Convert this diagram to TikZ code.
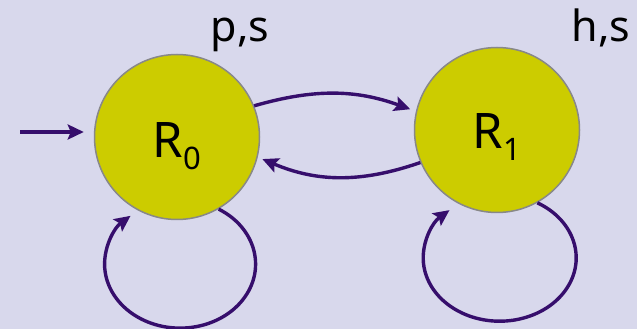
\documentclass[tikz,border=0pt]{standalone}
\usepackage{fontspec}
\setmainfont{Noto Sans}
\usetikzlibrary{arrows.meta,positioning}

\definecolor{bgback}{RGB}{216,216,236}
\definecolor{statefill}{RGB}{204,204,0}
\definecolor{stateline}{RGB}{136,136,136}
\definecolor{transcol}{RGB}{54,14,108}

\newcommand{\idx}[1]{\raisebox{-12pt}{\fontsize{31pt}{31pt}\selectfont #1}}

\begin{document}
\begin{tikzpicture}[x=1pt,y=1pt,
  state/.style={circle,fill=statefill,draw=stateline,line width=1.5pt,
    minimum size=165pt,inner sep=0pt,text depth=0pt,
    font=\fontsize{49pt}{49pt}\selectfont},
  trans/.style={draw=transcol,line width=3.4pt,
    -{Stealth[length=16pt,width=15pt,inset=3pt]}},
  lbl/.style={font=\fontsize{43pt}{43pt}\selectfont,anchor=base}]
 \fill[bgback] (0,0) rectangle (637,329);
 \useasboundingbox (0,0) rectangle (637,329);

 \node[state,text height=42pt] (R0) at (177,192) {R\idx{0}};
 \node[state,text height=38pt] (R1) at (497,199) {R\idx{1}};

 \node[lbl] (out0) at (240,287) {p,s};
 \node[lbl] (out1) at (601,287) {h,s};

 % start arrow
 \coordinate (start) at (20,197);
 \draw[trans,shorten >=10pt] (start) -- (start -| R0.west);

 \draw[trans,shorten >=6pt] (R0.22) to[bend left=18] (R1.167);
 \draw[trans,shorten >=5pt] (R1.203) to[bend left=21] (R0.-14);

 % self loops, drawn as elliptic arcs under each state
 \draw[trans] (R0.-60) arc[start angle=59.3,end angle=-229,x radius=75.5pt,y radius=64pt];
 \draw[trans] (R1.-61) arc[start angle=60.5,end angle=-229,x radius=76.5pt,y radius=63.3pt];
\end{tikzpicture}
\end{document}
